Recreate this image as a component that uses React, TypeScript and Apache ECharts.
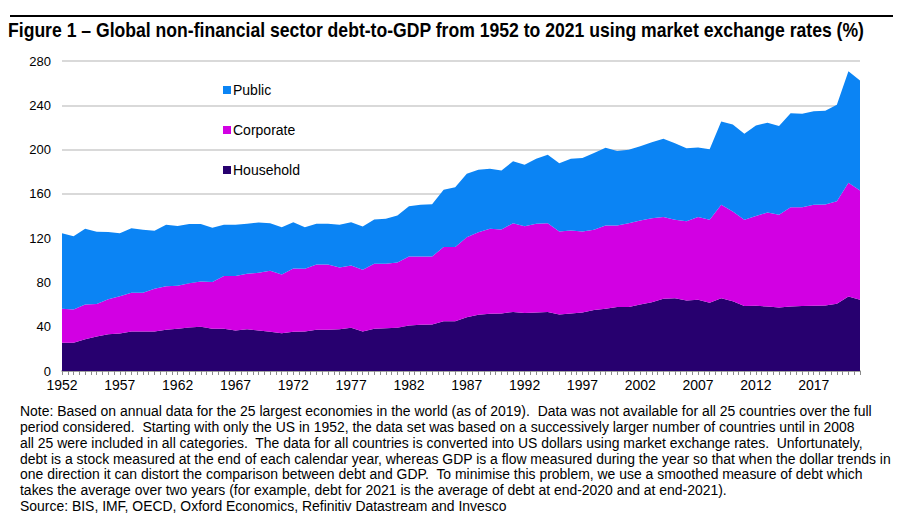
import React, { useEffect, useRef } from "react";
import * as echarts from "echarts";

const years: string[] = [];
for (let y = 1952; y <= 2021; y++) years.push(String(y));

const household = [
  25.5, 25.5, 28.7, 31.1, 33.3, 33.9, 35.7, 35.7, 35.7, 37.2,
  38.1, 39.3, 39.9, 38.1, 38.1, 36.6, 37.8, 36.6, 35.4, 34.2,
  35.4, 35.7, 37.2, 37.2, 37.8, 39.0, 35.7, 38.1, 38.7, 39.0,
  41.1, 41.7, 42.0, 45.0, 45.0, 48.6, 50.7, 51.6, 51.9, 53.4,
  52.5, 52.8, 53.4, 51.0, 51.9, 52.8, 55.0, 56.2, 57.7, 57.7,
  60.1, 62.2, 65.2, 65.8, 63.7, 64.3, 61.6, 65.8, 63.1, 58.6,
  58.9, 58.3, 57.4, 58.3, 58.6, 58.9, 59.2, 60.7, 67.3, 64.3,
];

const corporate = [
  30.7, 30.1, 31.3, 29.5, 31.6, 33.7, 34.9, 34.9, 38.5, 39.4,
  38.8, 40.0, 40.9, 42.4, 47.6, 49.1, 50.0, 52.1, 55.1, 53.0,
  57.2, 56.6, 59.0, 59.0, 55.7, 56.3, 55.7, 58.7, 58.1, 59.0,
  62.3, 61.7, 61.4, 66.9, 66.9, 72.3, 74.7, 76.8, 75.9, 80.1,
  78.3, 80.1, 80.1, 75.0, 75.0, 73.2, 72.5, 75.2, 73.7, 75.8,
  75.9, 75.8, 73.8, 70.8, 71.6, 74.7, 75.0, 84.3, 81.0, 78.0,
  81.0, 84.9, 83.7, 89.7, 89.4, 91.2, 91.2, 92.7, 102.7, 98.7,
];

const publicDebt = [
  68.3, 66.2, 68.4, 65.1, 60.6, 56.9, 58.4, 56.9, 52.4, 55.4,
  54.1, 53.4, 51.9, 48.8, 46.3, 46.3, 45.2, 45.4, 43.0, 42.7,
  41.8, 37.6, 36.8, 36.8, 38.6, 39.1, 39.1, 40.1, 40.7, 42.5,
  45.5, 46.7, 47.3, 51.8, 54.1, 57.2, 56.3, 54.2, 53.3, 56.0,
  55.4, 58.8, 61.8, 61.7, 64.8, 66.3, 69.5, 70.2, 67.2, 66.3,
  67.1, 68.7, 70.7, 69.2, 66.0, 62.9, 63.8, 75.3, 78.6, 77.6,
  81.9, 81.0, 80.1, 84.9, 84.3, 84.6, 84.6, 87.0, 100.8, 99.4,
];

const seriesNames = ["Household", "Corporate", "Public"];
const legendOrder = ["Public", "Corporate", "Household"];
const colors = ["#27006f", "#d200e3", "#0b84f4"];

const titleText =
  "Figure 1 \u2013 Global non-financial sector debt-to-GDP from 1952 to 2021 using market exchange rates (%)";

const noteLines = [
  "Note: Based on annual data for the 25 largest economies in the world (as of 2019).  Data was not available for all 25 countries over the full",
  "period considered.  Starting with only the US in 1952, the data set was based on a successively larger number of countries until in 2008",
  "all 25 were included in all categories.  The data for all countries is converted into US dollars using market exchange rates.  Unfortunately,",
  "debt is a stock measured at the end of each calendar year, whereas GDP is a flow measured during the year so that when the dollar trends in",
  "one direction it can distort the comparison between debt and GDP.  To minimise this problem, we use a smoothed measure of debt which",
  "takes the average over two years (for example, debt for 2021 is the average of debt at end-2020 and at end-2021).",
  "Source: BIS, IMF, OECD, Oxford Economics, Refinitiv Datastream and Invesco",
];

const SANS = "'Liberation Sans', Arial, sans-serif";

export default function App() {
  const ref = useRef<HTMLDivElement>(null);

  useEffect(() => {
    document.body.style.margin = "0";
    if (!ref.current) return;
    const chart = echarts.init(ref.current, null, { renderer: "svg" });
    const values = [household, corporate, publicDebt];

    const option: any = {
      animation: false,
      backgroundColor: "#ffffff",
      grid: { left: 62, right: 40, top: 61, bottom: 144 },
      legend: {
        orient: "vertical",
        left: 218,
        top: 78,
        itemGap: 26,
        itemWidth: 8,
        itemHeight: 8,
        icon: "rect",
        data: legendOrder,
        textStyle: { fontFamily: SANS, fontSize: 14, color: "#000", padding: [0, 0, 0, -3] },
      },
      xAxis: [
        {
          type: "category",
          data: years,
          boundaryGap: false,
          show: false,
        },
        {
          type: "value",
          min: 1952,
          max: 2021,
          interval: 0.5,
          position: "bottom",
          axisLine: { show: true, lineStyle: { color: "#8c8c8c", width: 1.5 } },
          axisTick: { show: true, length: 4, lineStyle: { color: "#8c8c8c" } },
          splitLine: { show: false },
          axisLabel: {
            fontFamily: SANS,
            fontSize: 14,
            color: "#000",
            margin: 7,
            formatter: (v: number) => {
              const d = v - 1952;
              return Number.isInteger(v) && d % 5 === 0 && v < 2021 ? String(v) : "";
            },
          },
        },
      ],
      yAxis: {
        type: "value",
        min: 0,
        max: 280,
        interval: 40,
        axisLine: { show: false },
        axisTick: { show: false },
        splitLine: { lineStyle: { color: "#d9d9d9", width: 2 } },
        axisLabel: { fontFamily: SANS, fontSize: 13, color: "#000", margin: 11 },
      },
      series: seriesNames.map((name, i) => ({
        name,
        type: "line",
        xAxisIndex: 0,
        stack: "total",
        symbol: "none",
        lineStyle: { width: 0 },
        areaStyle: { color: colors[i], opacity: 1 },
        itemStyle: { color: colors[i] },
        data: values[i],
      })),
      graphic: [
        {
          type: "line",
          shape: { x1: 10, y1: 16, x2: 893, y2: 16 },
          style: { stroke: "#000", lineWidth: 2 },
        },
        {
          type: "text",
          x: 8,
          y: 20,
          scaleX: 0.88,
          style: {
            text: titleText,
            fontFamily: SANS,
            fontWeight: "bold",
            fontSize: 20,
            fill: "#000",
            textAlign: "left",
            textVerticalAlign: "top",
          },
        },
        ...noteLines.map((t, i) => ({
          type: "text",
          x: 20,
          y: 403 + i * 15.8,
          scaleX: 0.9,
          style: {
            text: t,
            fontFamily: SANS,
            fontSize: 15.5,
            fill: "#000",
            textAlign: "left",
            textVerticalAlign: "top",
          },
        })),
      ],
    };
    chart.setOption(option);
    return () => chart.dispose();
  }, []);

  return <div ref={ref} style={{ width: 900, height: 515 }} />;
}
